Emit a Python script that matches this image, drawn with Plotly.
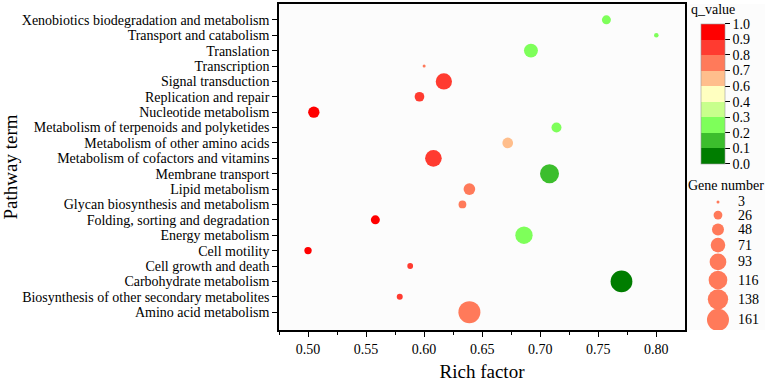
import plotly.graph_objects as go

# ---------------- data ----------------
pathways = [
    "Amino acid metabolism",
    "Biosynthesis of other secondary metabolites",
    "Carbohydrate metabolism",
    "Cell growth and death",
    "Cell motility",
    "Energy metabolism",
    "Folding, sorting and degradation",
    "Glycan biosynthesis and metabolism",
    "Lipid metabolism",
    "Membrane transport",
    "Metabolism of cofactors and vitamins",
    "Metabolism of other amino acids",
    "Metabolism of terpenoids and polyketides",
    "Nucleotide metabolism",
    "Replication and repair",
    "Signal transduction",
    "Transcription",
    "Translation",
    "Transport and catabolism",
    "Xenobiotics biodegradation and metabolism",
]
rich_factor = [0.639, 0.579, 0.770, 0.588, 0.500, 0.686, 0.558, 0.633, 0.639, 0.708,
               0.608, 0.672, 0.714, 0.505, 0.596, 0.617, 0.600, 0.692, 0.800, 0.757]
q_value = [0.72, 0.83, 0.05, 0.83, 0.95, 0.28, 0.95, 0.72, 0.72, 0.15,
           0.83, 0.62, 0.28, 0.95, 0.83, 0.83, 0.72, 0.28, 0.28, 0.28]
gene_number = [161, 12, 158, 11, 18, 100, 27, 20, 45, 120,
               92, 38, 33, 43, 31, 88, 3, 65, 7, 27]

x_ticks = [0.50, 0.55, 0.60, 0.65, 0.70, 0.75, 0.80]
cbar_labels = ["0.0", "0.1", "0.2", "0.3", "0.4", "0.6", "0.7", "0.8", "0.9", "1.0"]
legend_sizes = [3, 26, 48, 71, 93, 116, 138, 161]

# ---------------- styles ----------------
FONT = "Liberation Serif"
band_colors = ["#007D00", "#3CBE2D", "#7EFF5A", "#C8FF8C", "#FFFFC0",
               "#FFBE8C", "#FF7A5A", "#FF3B30", "#FF0000"]  # bottom -> top
nb = len(band_colors)
colorscale = []
for i, c in enumerate(band_colors):
    colorscale.append([i / nb, c])
    colorscale.append([(i + 1) / nb, c])

SIZEREF = 161 / 242.0  # 161 genes -> 22 px diameter

W, H = 767, 382
ML, MR, MT, MB = 279, 2, 3, 50
pw = W - ML - MR
ph = H - MT - MB
plot_right_px = 685
main_dom_end = (plot_right_px - ML) / pw

fig = go.Figure()

# main bubble trace
fig.add_trace(go.Scatter(
    x=rich_factor, y=pathways, mode="markers",
    marker=dict(size=gene_number, sizemode="area", sizeref=SIZEREF,
                color=q_value, colorscale=colorscale, cmin=0, cmax=1,
                line=dict(width=0), opacity=1,
                showscale=True,
                colorbar=dict(
                    x=(701 - ML) / pw, xanchor="left",
                    y=(H - MB - 23) / ph, yanchor="top",
                    lenmode="pixels", len=140,
                    thicknessmode="pixels", thickness=24,
                    xpad=0, ypad=0,
                    outlinewidth=0.6, outlinecolor="#999999",
                    tickvals=[i / nb for i in range(len(cbar_labels))],
                    ticktext=cbar_labels,
                    ticks="outside", ticklen=5, tickcolor="black",
                    tickfont=dict(family=FONT, size=14, color="black"),
                )),
    showlegend=False, hoverinfo="skip",
))

# size legend (on its own hidden axes, pixel-like coordinates)
ly = []
cur = 202.7
for i, n in enumerate(legend_sizes):
    if i > 0:
        cur += 12.5 + 0.055 * (legend_sizes[i - 1] + n) / 2
    ly.append(cur)
fig.add_trace(go.Scatter(
    x=[717.7] * len(legend_sizes), y=ly, mode="markers",
    marker=dict(size=legend_sizes, sizemode="area", sizeref=SIZEREF,
                color="#FF7A5A", line=dict(width=0), opacity=1),
    opacity=1,
    xaxis="x2", yaxis="y2", showlegend=False, hoverinfo="skip",
))

annotations = []
for n, yy in zip(legend_sizes, ly):
    annotations.append(dict(x=736, y=yy, xref="x2", yref="y2", text=str(n),
                            showarrow=False, xanchor="left", yanchor="middle",
                            font=dict(family=FONT, size=14, color="black")))
annotations.append(dict(x=726, y=186, xref="x2", yref="y2", text="Gene number",
                        showarrow=False, xanchor="center", yanchor="middle",
                        font=dict(family=FONT, size=14, color="black")))
annotations.append(dict(x=689, y=9, xref="x2", yref="y2", text="q_value",
                        showarrow=False, xanchor="left", yanchor="middle",
                        font=dict(family=FONT, size=14, color="black")))

fig.update_layout(
    width=W, height=H,
    margin=dict(l=ML, r=MR, t=MT, b=MB),
    paper_bgcolor="white", plot_bgcolor="#FCFCFC",
    font=dict(family=FONT, size=14, color="black"),
    xaxis=dict(
        domain=[0, main_dom_end], range=[0.475, 0.8247],
        tickvals=x_ticks, ticktext=[f"{v:.2f}" for v in x_ticks],
        ticks="outside", ticklen=5, tickwidth=1.2, tickcolor="black",
        minor=dict(ticks="outside", ticklen=3, tickwidth=1.2, tickcolor="black",
                   dtick=0.025, tick0=0.475, showgrid=False),
        showline=True, linecolor="black", linewidth=1.5, mirror=True,
        showgrid=False, zeroline=False,
        tickfont=dict(family=FONT, size=14),
        title=dict(text="Rich factor", font=dict(family=FONT, size=19), standoff=10),
    ),
    yaxis=dict(
        type="category", categoryorder="array", categoryarray=pathways,
        tickmode="array", tickvals=pathways, ticktext=pathways,
        range=[-1.16, 20.03],
        ticks="outside", ticklen=5, tickwidth=1.2, tickcolor="black",
        showline=True, linecolor="black", linewidth=1.5, mirror=True,
        showgrid=False, zeroline=False,
        tickfont=dict(family=FONT, size=14),
        title=dict(text="Pathway term", font=dict(family=FONT, size=19), standoff=2),
    ),
    xaxis2=dict(domain=[main_dom_end + 0.001, 1], range=[plot_right_px, W - MR],
                visible=False, fixedrange=True),
    yaxis2=dict(domain=[0, 1], range=[H - MB, MT], anchor="x2",
                visible=False, fixedrange=True),
    annotations=annotations,
)

fig.write_html("out.html")
